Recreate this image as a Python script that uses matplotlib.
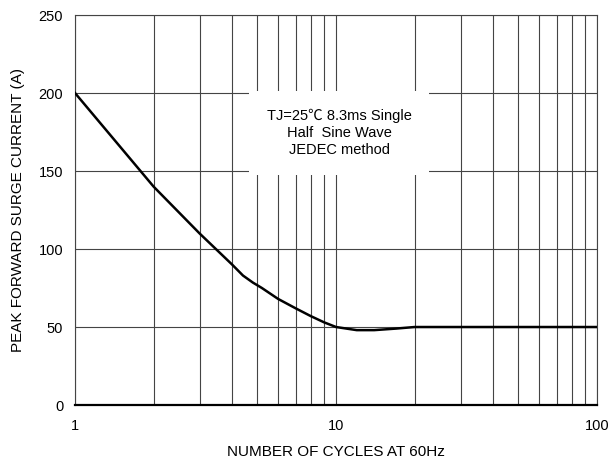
import matplotlib
matplotlib.use("Agg")
import matplotlib.pyplot as plt
from matplotlib.ticker import FixedLocator, NullFormatter

plt.rcParams["font.family"] = ["Liberation Sans", "Noto Sans CJK SC", "DejaVu Sans"]

# surge current curve
cycles = [1, 2, 3, 4, 4.4, 4.8, 5.2, 6, 7, 8, 9, 10, 12, 14, 17, 20, 30, 50, 100]
current = [200, 140, 110, 90, 83, 78.5, 75, 68, 62, 57, 53, 50, 48, 48, 49, 50, 50, 50, 50]

y_ticks = [0, 50, 100, 150, 200, 250]
x_ticks = [1, 10, 100]
x_minor = [2, 3, 4, 5, 6, 7, 8, 9, 20, 30, 40, 50, 60, 70, 80, 90]

fig = plt.figure(figsize=(6.08, 4.65), dpi=100)
ax = fig.add_axes([0.1234, 0.129, 0.8586, 0.8387])

ax.set_xscale("log")
ax.set_xlim(1, 100)
ax.set_ylim(0, 250)
ax.xaxis.set_major_locator(FixedLocator(x_ticks))
ax.xaxis.set_minor_locator(FixedLocator(x_minor))
ax.xaxis.set_minor_formatter(NullFormatter())
ax.set_xticklabels([str(v) for v in x_ticks])
ax.set_yticks(y_ticks)

ax.grid(which="both", axis="x", color="#444444", lw=0.8)
ax.grid(which="major", axis="y", color="#444444", lw=0.8)
ax.tick_params(which="both", length=0, labelsize=10.5)
ax.tick_params(axis="y", pad=8.5)
ax.tick_params(axis="x", pad=10)

for s in ["top", "right", "left"]:
    ax.spines[s].set_color("#444444")
    ax.spines[s].set_linewidth(0.8)
ax.spines["bottom"].set_linewidth(1.6)

ax.plot(cycles, current, color="black", lw=1.8, zorder=3)

ax.text(10.3, 174.4, "TJ=25\u2103 8.3ms Single\nHalf  Sine Wave\nJEDEC method",
        ha="center", va="center", fontsize=10.5, linespacing=1.3, zorder=4,
        bbox=dict(facecolor="white", edgecolor="none",
                  boxstyle="square,pad=1.2"))

ax.set_xlabel("NUMBER OF CYCLES AT 60Hz", fontsize=11, labelpad=9)
ax.set_ylabel("PEAK FORWARD SURGE CURRENT (A)", fontsize=11, labelpad=10)

fig.savefig("out.png", dpi=100)
